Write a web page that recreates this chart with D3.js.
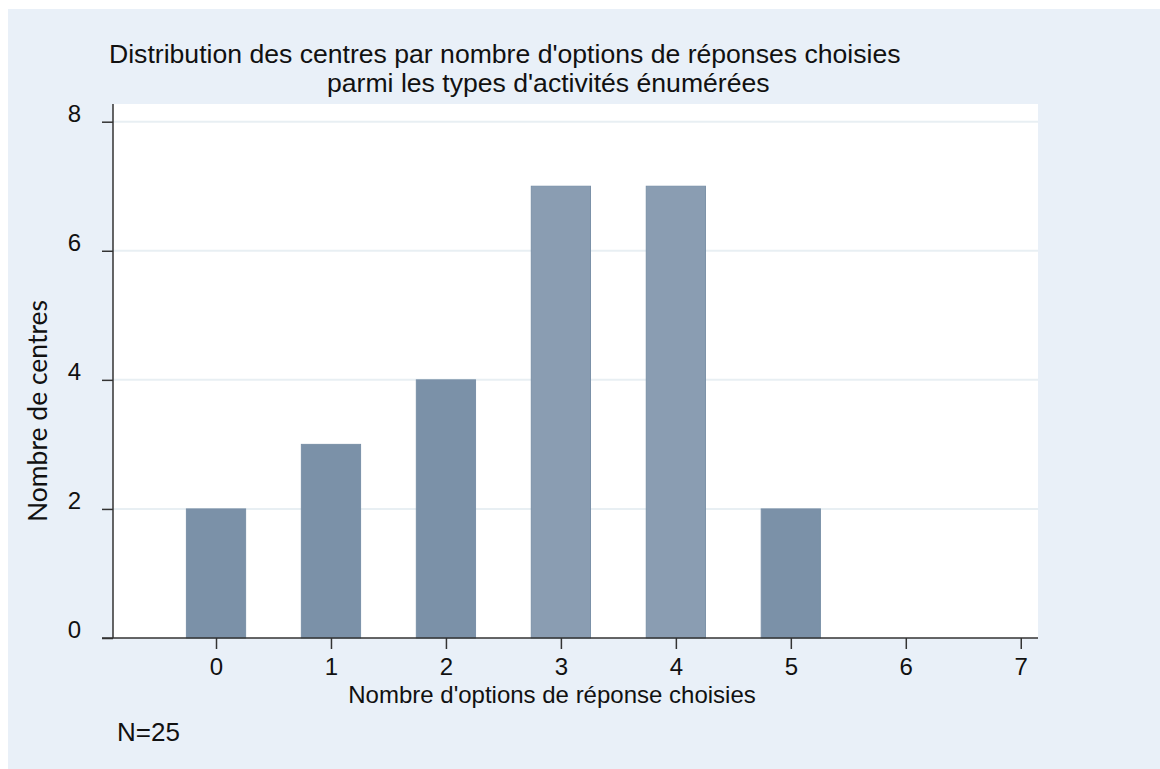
<!DOCTYPE html>
<html>
<head>
<meta charset="utf-8">
<script src="https://cdn.jsdelivr.net/npm/d3@7"></script>
<style>
  body { margin: 0; background: #fff; }
  text { font-family: "Liberation Sans", Arial, sans-serif; fill: #111; }
</style>
</head>
<body>
<div id="chart"></div>
<script>
let options = [0, 1, 2, 3, 4, 5, 6, 7]
let counts = [2, 3, 4, 7, 7, 2]
let yTicks = [0, 2, 4, 6, 8]
let titleLines = ["Distribution des centres par nombre d'options de réponses choisies", "parmi les types d'activités énumérées"]
let xTitle = "Nombre d'options de réponse choisies"
let yTitle = "Nombre de centres"
let note = "N=25"

let width = 1160, height = 769
let plot = { left: 113, top: 104, right: 1038, bottom: 638 }

let svg = d3.select('#chart').append('svg')
  .attr('width', width)
  .attr('height', height)

// outer background
svg.append('rect')
  .attr('x', 8).attr('y', 9)
  .attr('width', width - 8).attr('height', height - 9)
  .attr('fill', '#e9f0f8')

svg.append('rect')
  .attr('x', plot.left).attr('y', plot.top)
  .attr('width', plot.right - plot.left).attr('height', plot.bottom - plot.top)
  .attr('fill', '#fff')

let xScale = d3.scaleLinear()
  .domain([-0.896, 7.15])
  .range([plot.left, plot.right])

let yScale = d3.scaleLinear()
  .domain([0, 8])
  .range([plot.bottom, 121.7])

// grid
svg.append('g').selectAll('line')
  .data(yTicks.filter(d => d > 0))
  .enter().append('line')
  .attr('x1', plot.left).attr('x2', plot.right)
  .attr('y1', d => yScale(d)).attr('y2', d => yScale(d))
  .attr('stroke', '#e8eff3')
  .attr('stroke-width', 2)

// bars
let bw = xScale(0.515) - xScale(0)
svg.append('g').selectAll('rect')
  .data(counts)
  .enter().append('rect')
  .attr('x', (d, i) => xScale(options[i]) - bw / 2)
  .attr('y', d => yScale(d))
  .attr('width', bw)
  .attr('height', d => yScale(0) - yScale(d))
  .attr('fill', d => d >= 7 ? '#8a9db2' : '#7b91a8')
  .attr('stroke', '#7b91a8')
  .attr('stroke-width', 1)

// y axis
let yAxis = d3.axisLeft(yScale).tickValues(yTicks).tickSize(11).tickPadding(21)
let gy = svg.append('g')
  .attr('transform', `translate(${plot.left}, 0)`)
  .call(yAxis)
gy.select('.domain').remove()
gy.append('line')
  .attr('x1', 0).attr('x2', 0)
  .attr('y1', plot.top).attr('y2', plot.bottom)
  .attr('stroke', '#333').attr('stroke-width', 1.5)
gy.selectAll('.tick line').attr('stroke', '#333').attr('stroke-width', 1.5)
gy.selectAll('.tick text')
  .style('font-size', '24px')
  .style('font-family', '"Liberation Sans", Arial, sans-serif')
  .style('fill', '#111')
  .attr('dy', '-0.02em')

// x axis
let xAxis = d3.axisBottom(xScale).tickValues(options).tickSize(11).tickPadding(10)
let gx = svg.append('g')
  .attr('transform', `translate(0, ${plot.bottom})`)
  .call(xAxis)
gx.select('.domain').remove()
gx.append('line')
  .attr('x1', plot.left - 11).attr('x2', plot.right)
  .attr('y1', 0).attr('y2', 0)
  .attr('stroke', '#333').attr('stroke-width', 1.5)
gx.selectAll('.tick line').attr('stroke', '#333').attr('stroke-width', 1.5)
gx.selectAll('.tick text')
  .style('font-size', '24px')
  .style('font-family', '"Liberation Sans", Arial, sans-serif')
  .style('fill', '#111')
  .attr('dy', '0.68em')

// titles
svg.append('text')
  .attr('x', 109).attr('y', 63)
  .attr('font-size', 26.6)
  .text(titleLines[0])
svg.append('text')
  .attr('x', 327).attr('y', 92)
  .attr('font-size', 26.6)
  .text(titleLines[1])

svg.append('text')
  .attr('x', 552).attr('y', 703)
  .attr('text-anchor', 'middle')
  .attr('font-size', 24)
  .text(xTitle)

svg.append('text')
  .attr('transform', 'translate(47, 411) rotate(-90)')
  .attr('text-anchor', 'middle')
  .style('font-family', 'Lato, "Open Sans", sans-serif')
  .attr('font-size', 26.5)
  .text(yTitle)

svg.append('text')
  .attr('x', 117).attr('y', 741)
  .attr('font-size', 26)
  .text(note)
</script>
</body>
</html>
